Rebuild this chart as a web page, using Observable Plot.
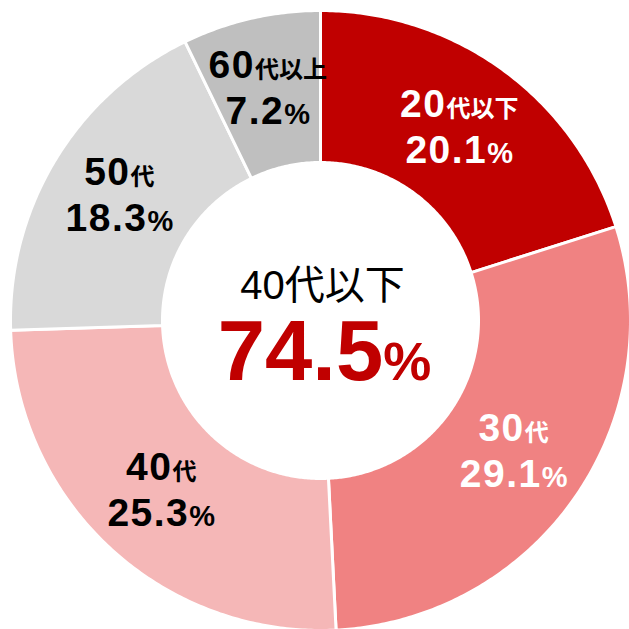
<!DOCTYPE html>
<html>
<head>
<meta charset="utf-8">
<script src="https://cdn.jsdelivr.net/npm/d3@7"></script>
<script src="https://cdn.jsdelivr.net/npm/@observablehq/plot@0.6"></script>
<style>
  html, body { margin: 0; padding: 0; background: #fff; }
  #chart { width: 629px; height: 629px; }
</style>
</head>
<body>
<div id="chart"></div>
<script>
// ---- data ----
const ages = ["20代以下", "30代", "40代", "50代", "60代以上"];
const shares = [20.1, 29.1, 25.3, 18.3, 7.2];
const shareLabels = ["20.1%", "29.1%", "25.3%", "18.3%", "7.2%"];
const sliceColors = ["#C00000", "#F08282", "#F5B7B7", "#D9D9D9", "#BFBFBF"];
const labelColors = ["#FFFFFF", "#FFFFFF", "#000000", "#000000", "#000000"];
const centerTitle = "40代以下";
const centerValue = "74.5%";

// ---- geometry derived from data ----
const R = 310, r = 158, rLabel = 235;
const arcs = d3.pie().sort(null).value(d => d)(shares);

const polyPoints = [];
arcs.forEach((a, i) => {
  const n = Math.max(8, Math.ceil((a.endAngle - a.startAngle) / 0.01));
  const outer = d3.range(n + 1).map(k => a.startAngle + (a.endAngle - a.startAngle) * k / n);
  outer.forEach(t => polyPoints.push({age: ages[i], color: sliceColors[i], x: R * Math.sin(t), y: -R * Math.cos(t)}));
  outer.slice().reverse().forEach(t => polyPoints.push({age: ages[i], color: sliceColors[i], x: r * Math.sin(t), y: -r * Math.cos(t)}));
});

const labelData = arcs.map((a, i) => {
  const m = (a.startAngle + a.endAngle) / 2;
  return {age: ages[i], pct: shareLabels[i], tc: labelColors[i], x: rLabel * Math.sin(m), y: -rLabel * Math.cos(m)};
});

const FONT = "'Liberation Sans', Arial, 'Noto Sans CJK JP', sans-serif";

const svg = Plot.plot({
  width: 629,
  height: 629,
  margin: 0,
  style: {background: "#fff", fontFamily: FONT},
  x: {domain: [-320, 309], range: [0, 629], axis: null},
  y: {domain: [-320, 309], range: [0, 629], axis: null},
  color: {type: "identity"},
  marks: [
    Plot.line(polyPoints, {x: "x", y: "y", z: "age", fill: "color", stroke: "#FFFFFF", strokeWidth: 3, curve: "linear-closed"}),
    Plot.text(labelData, {x: "x", y: "y", text: "age", fill: "tc", fontSize: 39, fontWeight: "bold", dy: -26, fontFamily: FONT}),
    Plot.text(labelData, {x: "x", y: "y", text: "pct", fill: "tc", fontSize: 39, fontWeight: "bold", dy: 20, fontFamily: FONT}),
    Plot.text([centerTitle], {x: () => 0, y: () => 0, text: d => d, fill: "#000000", fontSize: 40, fontWeight: "normal", dx: 2, dy: -34, fontFamily: FONT}),
    Plot.text([centerValue], {x: () => 0, y: () => 0, text: d => d, fill: "#C00000", fontSize: 85, fontWeight: "bold", dx: 4, dy: 32, fontFamily: FONT})
  ]
});

// split numbers and suffixes into differently sized tspans
d3.select(svg).selectAll("text").each(function() {
  const s = this.textContent;
  let suffixSize = null, spacing = null;
  if (ages.includes(s)) { suffixSize = 24; spacing = "1.5px"; }
  else if (shareLabels.includes(s)) { suffixSize = 29; spacing = "1.5px"; }
  else if (s === centerValue) { suffixSize = 54; spacing = "0px"; }
  if (suffixSize == null) return;
  const m = /^([\d.]+)(.*)$/.exec(s);
  if (!m) return;
  const sel = d3.select(this);
  sel.text(null);
  sel.append("tspan").attr("letter-spacing", spacing).text(m[1]);
  sel.append("tspan").attr("font-size", suffixSize).text(m[2]);
});

document.getElementById("chart").appendChild(svg);
</script>
</body>
</html>
